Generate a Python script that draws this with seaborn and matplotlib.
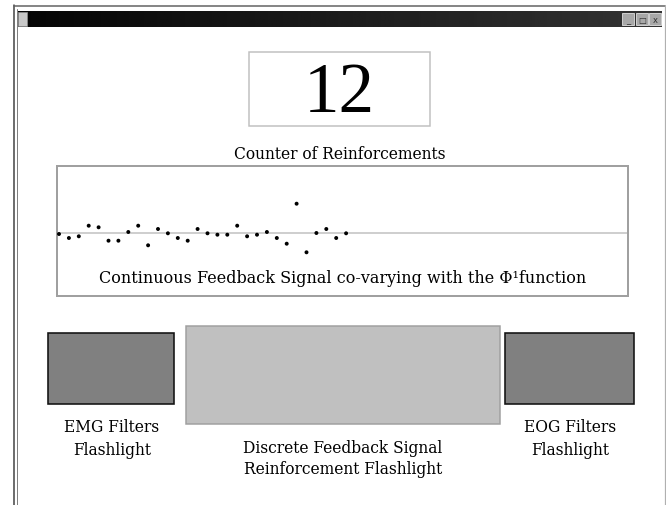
import numpy as np
import matplotlib
matplotlib.use("Agg")
import matplotlib.pyplot as plt
import seaborn as sns
import pandas as pd
from matplotlib.patches import Rectangle

# ---- data ----
counter_value = "12"
counter_label = "Counter of Reinforcements"
signal_label = "Continuous Feedback Signal co-varying with the \u03a6\u00b9function"
sample_index = list(range(30))
signal_values = [-1, -5, -3.3, 7.3, 5.7, -7.7, -7.7, 1, 7.3, -12.3,
                 4, -0.3, -5, -7.7, 4, -0.3, -1.7, -1.7, 7.3, -3.3,
                 -1.7, 1, -5, -10.7, 29.3, -19.3, 0, 4, -5, -0.3]
flash_labels = ["EMG Filters\nFlashlight",
                "Discrete Feedback Signal\nReinforcement Flashlight",
                "EOG Filters\nFlashlight"]

sns.set_theme(style="white")
plt.rcParams['font.family'] = ['DejaVu Serif', 'Liberation Serif']

W, H = 666, 506
fig = plt.figure(figsize=(W / 100, H / 100), dpi=100)
fig.patch.set_facecolor("white")

# background canvas in pixel coordinates
bg = fig.add_axes([0, 0, 1, 1])
bg.set_xlim(0, W)
bg.set_ylim(H, 0)
bg.axis("off")

def pt(px):
    return px * 72 / 100

LBL = pt(15.5)

# window frame
bg.plot([13.5, 13.5], [6, H], color="#404040", lw=pt(1.5))
bg.plot([16.5, 16.5], [10, H], color="#808080", lw=pt(1))
bg.plot([13.5, 664.5], [6.5, 6.5], color="#606060", lw=pt(1.5))
bg.plot([664.5, 664.5], [6, H], color="#b0b0b0", lw=pt(1.2))
# title bar gradient
grad = np.linspace(0.02, 0.2, 256).reshape(1, -1)
bg.imshow(grad, cmap="gray", vmin=0, vmax=1, extent=[17, 662, 28, 12],
          aspect="auto", zorder=1)
bg.add_patch(Rectangle((18, 13), 9, 14, facecolor="#c8c8c8", edgecolor="#909090", lw=0.5, zorder=2))
for bx, glyph in zip([622, 636, 649], ["_", "\u25a1", "x"]):
    bg.add_patch(Rectangle((bx, 14), 12, 12, facecolor="#a8a8a8", edgecolor="#e0e0e0", lw=0.6, zorder=2))
    bg.text(bx + 6, 20.5, glyph, ha="center", va="center", fontsize=6, color="#303030",
            family="DejaVu Sans", zorder=3)

# counter box
bg.add_patch(Rectangle((249, 53), 181, 74, facecolor="white", edgecolor="#c0c0c0", lw=pt(1.5)))
bg.text(339, 94, counter_value, ha="center", va="center", fontsize=pt(71), color="black",
        family="Liberation Serif")
bg.text(340, 154, counter_label, ha="center", va="center", fontsize=LBL, color="black")

# flashlights
bg.add_patch(Rectangle((48, 334), 126, 71, facecolor="#808080", edgecolor="#111111", lw=pt(1.6)))
bg.add_patch(Rectangle((186, 327), 314, 98, facecolor="#c0c0c0", edgecolor="#a0a0a0", lw=pt(1.5)))
bg.add_patch(Rectangle((505, 334), 129, 71, facecolor="#808080", edgecolor="#111111", lw=pt(1.6)))
bg.text(112, 439, flash_labels[0], ha="center", va="center", fontsize=LBL,
        linespacing=1.4, color="black")
bg.text(343, 459, flash_labels[1], ha="center", va="center", fontsize=LBL,
        linespacing=1.3, color="black")
bg.text(570, 439, flash_labels[2], ha="center", va="center", fontsize=LBL,
        linespacing=1.4, color="black")

# signal panel
px0, px1, py0, py1 = 57, 628, 167, 297
ax = fig.add_axes([px0 / W, 1 - py1 / H, (px1 - px0) / W, (py1 - py0) / H])
df = pd.DataFrame({"i": sample_index, "v": signal_values})
ax.axhline(0, color="#c4c4c4", lw=pt(1.6), zorder=1)
sns.scatterplot(data=df, x="i", y="v", ax=ax, color="black", s=8, marker="o",
                edgecolor="none", zorder=3, legend=False)
ax.set_xlim((px0 - 59) / 9.9, (px1 - 59) / 9.9)
ax.set_ylim(-(py1 - 234), 234 - py0)
ax.set_xticks([])
ax.set_yticks([])
ax.set_xlabel("")
ax.set_ylabel("")
ax.set_facecolor("white")
for s in ax.spines.values():
    s.set_visible(True)
    s.set_color("#a0a0a0")
    s.set_linewidth(pt(2))
ax.text(0.5, 0.14, signal_label, transform=ax.transAxes, ha="center", va="center",
        fontsize=pt(16), color="black")

fig.savefig("out.png", dpi=100, facecolor="white")
